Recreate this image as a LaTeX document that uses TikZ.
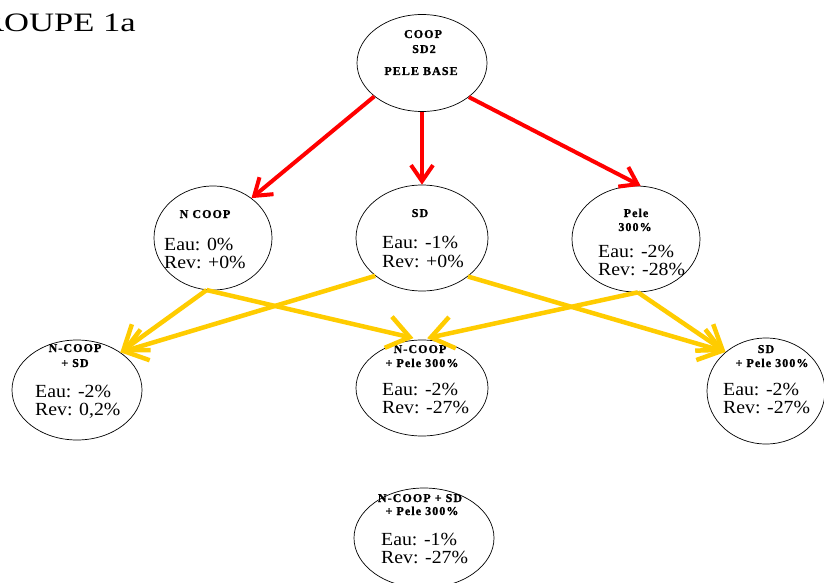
\documentclass[tikz,border=0pt]{standalone}
\usepackage{fontspec}
\setmainfont{Liberation Serif}
\newfontfamily\bodyfont{Liberation Serif}[FakeStretch=1.07]
\newfontfamily\hdrfont{Liberation Serif Bold}[LetterSpace=9, FakeBold=1.2]
\newfontfamily\titlefont{Liberation Serif}[FakeStretch=1.3]
\usetikzlibrary{shapes.geometric,arrows.meta}
\definecolor{arrred}{RGB}{255,0,0}
\definecolor{arryel}{RGB}{255,204,0}
\tikzset{
  ell/.style={ellipse, draw=black, line width=0.7pt, inner sep=0pt},
  hdr/.style={anchor=base, inner sep=0pt, font=\hdrfont\fontsize{12}{13}\selectfont},
  body/.style={anchor=base west, inner sep=0pt, font=\bodyfont\fontsize{18.5}{20}\selectfont},
  redarrow/.style={draw=arrred, line width=4pt, -{Straight Barb[length=16pt,width=22pt]}},
  yelarrow/.style={draw=arryel, line width=4.5pt, -{Straight Barb[length=22pt,width=32pt]}},
}
\begin{document}
\begin{tikzpicture}[x=1pt,y=-1pt]
\useasboundingbox (0,0) rectangle (824,583);
\fill[white] (0,0) rectangle (824,583);

% title
\node[anchor=base east, inner sep=0pt, font=\titlefont\fontsize{26.6}{30}\selectfont] (title) at (136,32) {GROUPE 1a};

% ellipses
\node[ell, minimum width=130pt, minimum height=97pt] (top)  at (422,63)  {};
\node[ell, minimum width=118pt, minimum height=104pt] (ncoop) at (213,238) {};
\node[ell, minimum width=132pt, minimum height=106pt] (sd)  at (422,238) {};
\node[ell, minimum width=128pt, minimum height=106pt] (pele) at (636,239) {};
\node[ell, minimum width=130pt, minimum height=100pt] (ncsd) at (77,390) {};
\node[ell, minimum width=132pt, minimum height=96pt] (ncp)  at (422,388) {};
\node[ell, minimum width=118pt, minimum height=106pt] (sdp)  at (766,391) {};
\node[ell, minimum width=140pt, minimum height=100pt] (bot)  at (424,538) {};

% texts
\node[hdr] (topA) at (423,38) {COOP};
\node[hdr] (topB) at (424,53) {SD2};
\node[hdr] (topC) at (421,75) {PELE BASE};

\node[hdr] (ncoopH) at (205,218) {N COOP};
\node[body] (ncoopE) at (164,250) {Eau: 0\%};
\node[body] (ncoopR) at (164,268) {Rev: +0\%};

\node[hdr] (sdH) at (420,217) {SD};
\node[body] (sdE) at (382,248) {Eau: -1\%};
\node[body] (sdR) at (382,267) {Rev: +0\%};

\node[hdr] (peleH) at (636,217) {Pele};
\node[hdr] (peleH2) at (635,231) {300\%};
\node[body] (peleE) at (598,257) {Eau: -2\%};
\node[body] (peleR) at (598,275) {Rev: -28\%};

\node[hdr] (ncsdH) at (75,352) {N-COOP};
\node[hdr] (ncsdH2) at (75,367) {+ SD};
\node[body] (ncsdE) at (35,397) {Eau: -2\%};
\node[body] (ncsdR) at (35,415) {Rev: 0,2\%};

\node[hdr] (ncpH) at (420,353) {N-COOP};
\node[hdr] (ncpH2) at (422,367) {+ Pele 300\%};
\node[body] (ncpE) at (382,395) {Eau: -2\%};
\node[body] (ncpR) at (382,413) {Rev: -27\%};

\node[hdr] (sdpH) at (766,353) {SD};
\node[hdr] (sdpH2) at (772,367) {+ Pele 300\%};
\node[body] (sdpE) at (723,395) {Eau: -2\%};
\node[body] (sdpR) at (723,413) {Rev: -27\%};

\node[hdr] (botH) at (420,502) {N-COOP + SD};
\node[hdr] (botH2) at (422,515) {+ Pele 300\%};
\node[body] (botE) at (381,545) {Eau: -1\%};
\node[body] (botR) at (381,563) {Rev: -27\%};

% red arrows
\draw[redarrow] (top.215.5) -- (ncoop.46.4);
\draw[redarrow] (top.south) -- (sd.north);
\draw[redarrow] (top.-36.5) -- (pele.85.5);

% yellow arrows
\draw[yelarrow] (ncoop.263.5) -- (ncsd.41.6);
\draw[yelarrow, shorten >=7pt] (ncoop.263.5) -- (ncp.92);
\draw[yelarrow] (sd.219.7) -- (ncsd.41.6);
\draw[yelarrow] (sd.-40) -- (sdp.136.4);
\draw[yelarrow, shorten >=7pt] (pele.-88) -- (ncp.92);
\draw[yelarrow] (pele.-88) -- (sdp.136.4);
\end{tikzpicture}
\end{document}
